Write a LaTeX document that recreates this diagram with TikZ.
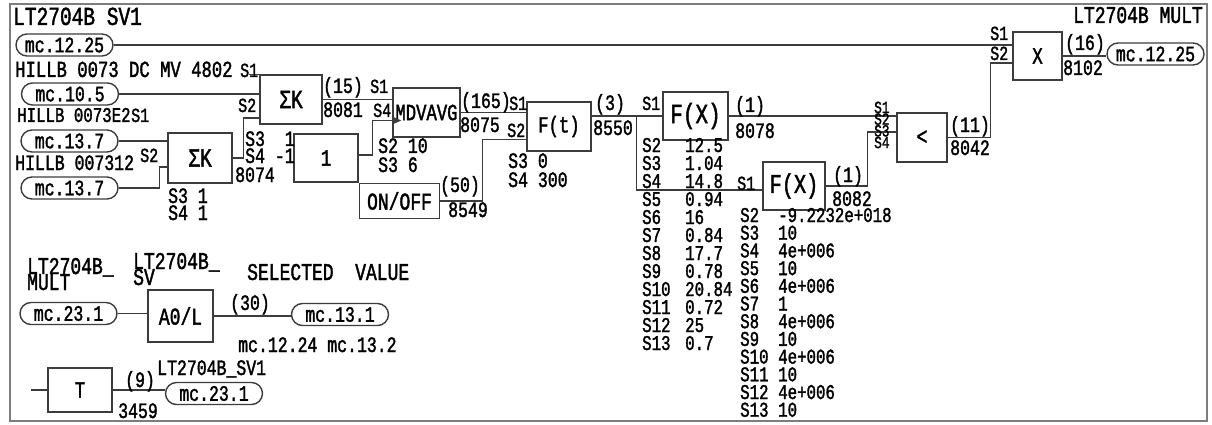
\documentclass[tikz,border=0pt]{standalone}
\usepackage{fontspec}
\setmainfont[FakeStretch=0.75,FakeBold=1.6]{Liberation Mono}
\usetikzlibrary{positioning}
\definecolor{wirec}{RGB}{60,60,60}
\definecolor{framec}{RGB}{125,125,125}
\newcommand\fsz[1]{\fontsize{#1}{#1}\selectfont}

\begin{document}
\begin{tikzpicture}[x=1pt,y=-1pt,
  wire/.style={draw=wirec,line width=1.4pt},
  blk/.style={draw=wirec,line width=1.5pt,fill=white,inner sep=0pt,font=\fsz{23}},
  pill/.style={draw=wirec,line width=1.4pt,rounded corners=11pt,minimum width=97pt,minimum height=22pt,inner sep=0pt,font=\fsz{22}},
  lbl/.style={inner sep=0pt,anchor=base west,font=\fsz{22},text height=13pt,text depth=1pt},
  port/.style={lbl,font=\fsz{20},text height=11pt},
  par/.style={lbl,font=\fsz{21},text height=12pt}]
\useasboundingbox (0,0) rectangle (1212,425);
\draw[framec,line width=2.2pt] (10,4) rectangle (1207,421);

% blocks
\node[blk,minimum width=62,minimum height=49] (sigA) at (291,99.5) {\fsz{26}ΣK};
\node[blk,minimum width=64,minimum height=50] (sigB) at (200,158) {\fsz{26}ΣK};
\node[blk,minimum width=67,minimum height=49] (mdv) at (426.5,112.5) {MDVAVG};
\node[blk,minimum width=64,minimum height=48] (one) at (326,158) {1};
\node[blk,minimum width=80,minimum height=35,anchor=north west] (onoff) at (one.south east) {\fsz{24}ON/OFF};
\node[blk,minimum width=64,minimum height=49] (ft) at (559,126.5) {F(t)};
\node[blk,minimum width=65,minimum height=48] (fxA) at (695.5,116) {\fsz{28}F(X)};
\node[blk,minimum width=62,minimum height=48] (fxB) at (794,186) {\fsz{27}F(X)};
\node[blk,minimum width=50,minimum height=49] (lt) at (922,137.5) {\fsz{24}<};
\node[blk,minimum width=49,minimum height=48] (mult) at (1037.5,56) {X};
\node[blk,minimum width=65,minimum height=52] (aol) at (180.5,316) {\fsz{24}A0/L};
\node[blk,minimum width=64,minimum height=44] (tb) at (80,390) {T};

% value pills
\node[pill] (pTop) at (64.5,45) {mc.12.25};
\node[pill] (pHa) at (70,94) {mc.10.5};
\node[pill] (pHb) at (69.5,141) {mc.13.7};
\node[pill] (pHc) at (69.5,188) {mc.13.7};
\node[pill] (pOut) at (1155.5,54) {mc.12.25};
\node[pill] (pM) at (68.5,313.5) {mc.23.1};
\node[pill] (pSel) at (340,314.5) {mc.13.1};
\node[pill] (pSv) at (214,393.5) {mc.23.1};

% wires
\draw[wire] (pTop.east) -- (pTop.east -| mult.west);
\draw[wire] (lt.east) -- ++(43,0) |- ([yshift=-7]mult.west);
\draw[wire] (mult.east) -- (mult.east -| pOut.west);
\draw[wire] (sigA.north west) -- ++(-10,0);
\draw[wire] (pHa.east) -- (pHa.east -| sigA.west);
\draw[wire] (pHb.east) -- (pHb.east -| sigB.west);
\draw[wire] (pHc.east) -- ++(41,0) |- ([yshift=-9]sigB.west);
\draw[wire] (sigB.east) -- ++(11,0) |- ([yshift=-18.5]sigA.west);
\draw[wire] (sigA.east) -- (sigA.east -| mdv.west);
\draw[wire] ([yshift=3]one.east) -- ++(14,0) |- ([yshift=-8]mdv.west);
\fill[wirec] ([yshift=-4]mdv.west) -- ++(9,4) -- ++(-9,4) -- cycle;
\draw[wire] (mdv.east) -- (mdv.east -| ft.west);
\draw[wire] (onoff.east) -- ++(42,0) |- ([yshift=-13]ft.west);
\draw[wire] (fxA.west -| ft.east) -- (fxA.west);
\draw[wire] ([xshift=-26]fxA.west) |- ([yshift=-4]fxB.west);
\draw[wire] (fxA.east) -- (fxA.east -| lt.west);
\draw[wire] (fxB.east) -- ++(42,0) |- ([yshift=5.5]lt.west);
\draw[wire] (pM.east) -- (pM.east -| aol.west);
\draw[wire] (aol.east) -- (aol.east -| pSel.west);
\draw[wire] (tb.west) -- ++(-16,0);
\draw[wire] (tb.east) -- (tb.east -| pSv.west);

% tags and labels
\node[lbl,font=\fsz{26},text height=15pt] (ttl) at (13,25) {LT2704B SV1};
\node[lbl,font=\fsz{24},anchor=base east] (ttr) at (1203,23) {LT2704B MULT};
\node[lbl,font=\fsz{23}] (tagA) at (15,77) {HILLB 0073 DC MV 4802};
\node[lbl,font=\fsz{21}] (tagB) at (17,122) {HILLB 0073E2};
\node[lbl] (tagC) at (15,170) {HILLB 007312};
\node[port] (sAs1) at (240,77) {S1};
\node[port] (sAs2) at (238,112) {S2};
\node[port] (sBs1) at (131,122) {S1};
\node[port] (sBs2) at (140,162) {S2};
\node[lbl] (sAs3) at (245,146) {S3~~1};
\node[lbl] (sAs4) at (245,163) {S4 -1};
\node[lbl] (sBno) at (235,182) {8074};
\node[lbl] (sBs3) at (168,203) {S3 1};
\node[lbl] (sBs4) at (168,220) {S4 1};
\node[lbl] (sAout) at (323,93) {(15)};
\node[lbl] (sAno) at (323,117) {8081};
\node[port] (mds1) at (370,93) {S1};
\node[port] (mds4) at (373,117) {S4};
\node[lbl] (mds2) at (378,153) {S2 10};
\node[lbl] (mds3) at (378,172) {S3 6};
\node[lbl] (mdout) at (461,108) {(165)};
\node[lbl] (mdno) at (460,132) {8075};
\node[lbl] (ooout) at (440,192) {(50)};
\node[lbl] (oono) at (448,217) {8549};
\node[port] (fts1) at (509,110) {S1};
\node[port] (fts2) at (507,137) {S2};
\node[lbl] (fts3) at (508,168) {S3 0};
\node[lbl] (fts4) at (508,187) {S4 300};
\node[lbl] (ftout) at (595,110) {(3)};
\node[lbl] (ftno) at (593,135) {8550};
\node[port] (fxAs1) at (642,110) {S1};
\node[lbl] (fxAout) at (735,112) {(1)};
\node[lbl] (fxAno) at (735,138) {8078};
\foreach \k/\v [count=\r from 0] in {S2/12.5,S3/1.04,S4/14.8,S5/0.94,S6/16,S7/0.84,
    S8/17.7,S9/0.78,S10/20.84,S11/0.72,S12/25,S13/0.7}{
  \node[par] (fxAk\r) at (642,{152+18*\r}) {\k};
  \node[par] (fxAv\r) at (685,{152+18*\r}) {\v};
}
\node[port] (fxBs1) at (737,190) {S1};
\node[lbl] (fxBout) at (833,182) {(1)};
\node[lbl] (fxBno) at (832,206) {8082};
\foreach \k/\v [count=\r from 0] in {S2/-9.2232e+018,S3/10,S4/4e+006,S5/10,S6/4e+006,S7/1,
    S8/4e+006,S9/10,S10/4e+006,S11/10,S12/4e+006,S13/10}{
  \node[par] (fxBk\r) at (740,{222+17.7*\r}) {\k};
  \node[par] (fxBv\r) at (778,{222+17.7*\r}) {\v};
}
\foreach \k [count=\r from 0] in {S1,S2,S3,S4}{
  \node[lbl,font=\fsz{17},text height=9pt,text depth=0pt] (ltk\r) at (874,{113+11.7*\r}) {\k};
}
\node[lbl] (ltout) at (950,132) {(11)};
\node[lbl] (ltno) at (950,155) {8042};
\node[port] (mus1) at (990,40) {S1};
\node[port] (mus2) at (990,60) {S2};
\node[lbl] (muout) at (1065,50) {(16)};
\node[lbl] (muno) at (1063,75) {8102};

% lower part
\node[lbl,font=\fsz{24}] (tagM1) at (27,274) {LT2704B\_};
\node[lbl,font=\fsz{24}] (tagM2) at (27,290) {MULT};
\node[lbl,font=\fsz{24}] (tagS1) at (133,269) {LT2704B\_};
\node[lbl,font=\fsz{24}] (tagS2) at (133,285) {SV};
\node[lbl,font=\fsz{24}] (tagV) at (247,280) {SELECTED~~VALUE};
\node[lbl] (aolout) at (230,310) {(30)};
\node[lbl] (aolno) at (238,352) {mc.12.24 mc.13.2};
\node[lbl] (tagT) at (157,375) {LT2704B\_SV1};
\node[lbl] (tbout) at (125,387) {(9)};
\node[lbl] (tbno) at (118,418) {3459};
\end{tikzpicture}
\end{document}
